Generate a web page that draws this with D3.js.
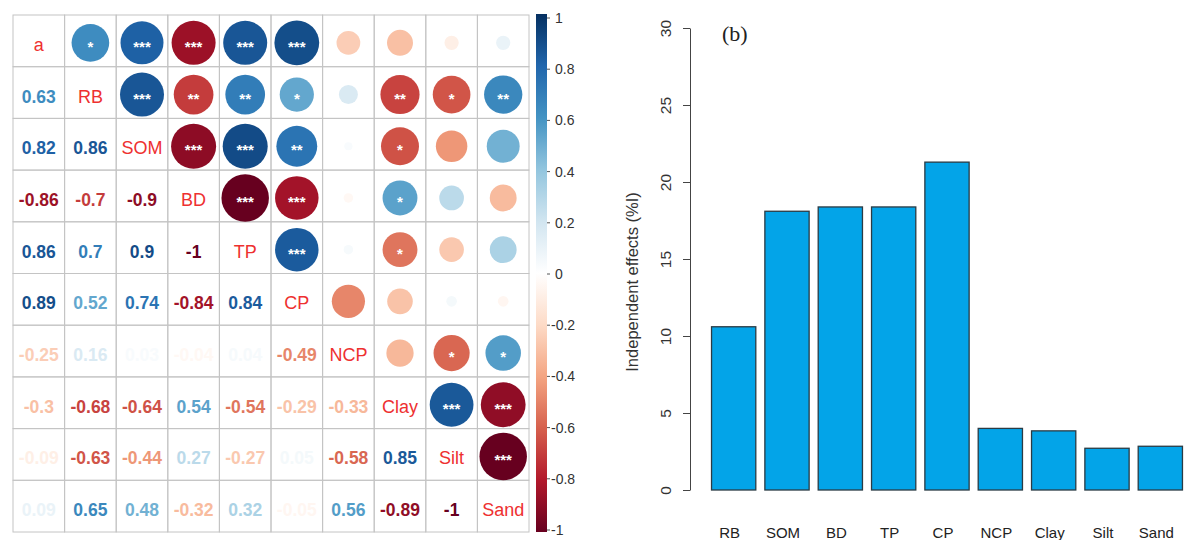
<!DOCTYPE html>
<html>
<head>
<meta charset="utf-8">
<script src="https://cdn.jsdelivr.net/npm/d3@7"></script>
<style>
body { margin: 0; background: #fff; }
text { font-family: "Liberation Sans", Arial, sans-serif; }
</style>
</head>
<body>
<script>
var vars = ["a", "RB", "SOM", "BD", "TP", "CP", "NCP", "Clay", "Silt", "Sand"];

// lower triangle of the correlation matrix: row i holds r(i, 0..i-1)
var corrLower = [
  [],
  [0.63],
  [0.82, 0.86],
  [-0.86, -0.7, -0.9],
  [0.86, 0.7, 0.9, -1],
  [0.89, 0.52, 0.74, -0.84, 0.84],
  [-0.25, 0.16, 0.03, -0.04, 0.04, -0.49],
  [-0.3, -0.68, -0.64, 0.54, -0.54, -0.29, -0.33],
  [-0.09, -0.63, -0.44, 0.27, -0.27, 0.05, -0.58, 0.85],
  [0.09, 0.65, 0.48, -0.32, 0.32, -0.05, 0.56, -0.89, -1]
];

// significance marks, same layout, drawn in the mirrored upper cell
var sigLower = [
  [],
  ["*"],
  ["***", "***"],
  ["***", "**", "***"],
  ["***", "**", "***", "***"],
  ["***", "*", "**", "***", "***"],
  ["", "", "", "", "", ""],
  ["", "**", "*", "*", "*", "", ""],
  ["", "*", "", "", "", "", "*", "***"],
  ["", "**", "", "", "", "", "*", "***", "***"]
];

var colorTicks = [1, 0.8, 0.6, 0.4, 0.2, 0, -0.2, -0.4, -0.6, -0.8, -1];
var palette = ["#67001F", "#B2182B", "#D6604D", "#F4A582", "#FDDBC7", "#FFFFFF",
               "#D1E5F0", "#92C5DE", "#4393C3", "#2166AC", "#053061"];

var effVars = ["RB", "SOM", "BD", "TP", "CP", "NCP", "Clay", "Silt", "Sand"];
var effects = [10.6, 18.1, 18.38, 18.38, 21.29, 4.0, 3.84, 2.71, 2.84];
var effTicks = [0, 5, 10, 15, 20, 25, 30];

var svg = d3.select("body").append("svg").attr("width", 1186).attr("height", 540);

var color = d3.scaleLinear()
  .domain(palette.map(function(c, i) { return -1 + i * 0.2; }))
  .range(palette);

// ---- (a) correlation matrix ----
var x = d3.scaleBand().domain(vars).range([13, 529]);
var y = d3.scaleBand().domain(vars).range([15, 532]);
var cw = x.bandwidth(), ch = y.bandwidth();

var cells = [];
vars.forEach(function(rv, i) {
  vars.forEach(function(cv, j) {
    if (i == j) cells.push({row: rv, col: cv, type: "label"});
    else if (j < i) cells.push({row: rv, col: cv, type: "num", r: corrLower[i][j]});
    else cells.push({row: rv, col: cv, type: "circle", r: corrLower[j][i], sig: sigLower[j][i]});
  });
});

var g = svg.append("g");

g.selectAll("rect.cell").data(cells).enter().append("rect")
  .attr("class", "cell")
  .attr("x", function(d) { return x(d.col); })
  .attr("y", function(d) { return y(d.row); })
  .attr("width", cw).attr("height", ch)
  .attr("fill", "none").attr("stroke", "#c4c4c4").attr("stroke-width", 1);

g.selectAll("circle").data(cells.filter(function(d) { return d.type == "circle"; }))
  .enter().append("circle")
  .attr("cx", function(d) { return x(d.col) + cw / 2; })
  .attr("cy", function(d) { return y(d.row) + ch / 2 + 2; })
  .attr("r", function(d) { return Math.sqrt(Math.abs(d.r)) * 0.46 * cw; })
  .attr("fill", function(d) { return color(d.r); });

g.selectAll("text.sig").data(cells.filter(function(d) { return d.type == "circle" && d.sig; }))
  .enter().append("text")
  .attr("class", "sig")
  .attr("x", function(d) { return x(d.col) + cw / 2; })
  .attr("y", function(d) { return y(d.row) + ch / 2 + 11; })
  .attr("text-anchor", "middle")
  .attr("font-size", 15).attr("font-weight", "bold")
  .attr("fill", "#fff")
  .text(function(d) { return d.sig; });

g.selectAll("text.num").data(cells.filter(function(d) { return d.type == "num"; }))
  .enter().append("text")
  .attr("class", "num")
  .attr("x", function(d) { return x(d.col) + cw / 2; })
  .attr("y", function(d) { return y(d.row) + ch / 2 + 10; })
  .attr("text-anchor", "middle")
  .attr("font-size", 17.5).attr("font-weight", "bold")
  .attr("fill", function(d) { return color(d.r); })
  .text(function(d) { return String(+d.r.toFixed(2)); });

g.selectAll("text.lab").data(cells.filter(function(d) { return d.type == "label"; }))
  .enter().append("text")
  .attr("class", "lab")
  .attr("x", function(d) { return x(d.col) + cw / 2; })
  .attr("y", function(d) { return y(d.row) + ch / 2 + 10; })
  .attr("text-anchor", "middle")
  .attr("font-size", 18)
  .attr("fill", "#ee3030")
  .text(function(d) { return d.row; });

// colour bar
var cy = d3.scaleLinear().domain([-1, 1]).range([532, 14]);
var cyLab = d3.scaleLinear().domain([-1, 1]).range([535, 23]);
var grad = svg.append("defs").append("linearGradient")
  .attr("id", "cbar").attr("x1", 0).attr("y1", 1).attr("x2", 0).attr("y2", 0);
grad.selectAll("stop").data(palette).enter().append("stop")
  .attr("offset", function(d, i) { return i / (palette.length - 1); })
  .attr("stop-color", function(d) { return d; });

svg.append("rect")
  .attr("x", 536).attr("y", cy(1))
  .attr("width", 11).attr("height", cy(-1) - cy(1))
  .attr("fill", "url(#cbar)");

var cb = svg.append("g").attr("transform", "translate(547,0)");
cb.selectAll("line").data(colorTicks).enter().append("line")
  .attr("x1", 0).attr("x2", 3)
  .attr("y1", function(d) { return cyLab(d) - 5; }).attr("y2", function(d) { return cyLab(d) - 5; })
  .attr("stroke", "#555");
cb.selectAll("text").data(colorTicks).enter().append("text")
  .attr("x", function(d) { return d < 0 ? 4 : 8; })
  .attr("y", function(d) { return cyLab(d); })
  .attr("font-size", 14).attr("fill", "#333")
  .text(function(d) { return String(+d.toFixed(1)); });

// ---- (b) independent effects ----
var xE = d3.scaleBand().domain(effVars).range([707, 1187]).paddingInner(0.17).paddingOuter(0.085);
var yE = d3.scaleLinear().domain([0, 30]).range([490, 28]);

svg.selectAll("rect.bar").data(effVars).enter().append("rect")
  .attr("class", "bar")
  .attr("x", function(d) { return xE(d); })
  .attr("y", function(d, i) { return yE(effects[i]); })
  .attr("width", xE.bandwidth())
  .attr("height", function(d, i) { return yE(0) - yE(effects[i]); })
  .attr("fill", "#03a4e8").attr("stroke", "#2a3b44").attr("stroke-width", 1.3);

var ax = svg.append("g").attr("transform", "translate(690,0)")
  .call(d3.axisLeft(yE).tickValues(effTicks).tickSize(7).tickSizeOuter(0));
ax.select(".domain").attr("stroke", "#444");
ax.selectAll(".tick line").attr("stroke", "#444");
ax.selectAll(".tick text")
  .attr("transform", "rotate(-90)")
  .attr("x", 0).attr("y", -19).attr("dy", 0)
  .attr("text-anchor", "middle")
  .attr("font-size", 15.5).attr("fill", "#333");

svg.append("text")
  .attr("transform", "translate(638,282) rotate(-90)")
  .attr("text-anchor", "middle")
  .attr("font-size", 16.5).attr("fill", "#333")
  .text("Independent effects (%I)");

svg.selectAll("text.xl").data(effVars).enter().append("text")
  .attr("class", "xl")
  .attr("x", function(d) { return xE(d) + xE.bandwidth() / 2 - 4; })
  .attr("y", 538)
  .attr("text-anchor", "middle")
  .attr("font-size", 15).attr("fill", "#222")
  .text(function(d) { return d; });

svg.append("text")
  .attr("x", 722).attr("y", 41)
  .style("font-family", "'Liberation Serif', 'Times New Roman', serif")
  .attr("font-size", 22).attr("fill", "#222")
  .text("(b)");
</script>
</body>
</html>
